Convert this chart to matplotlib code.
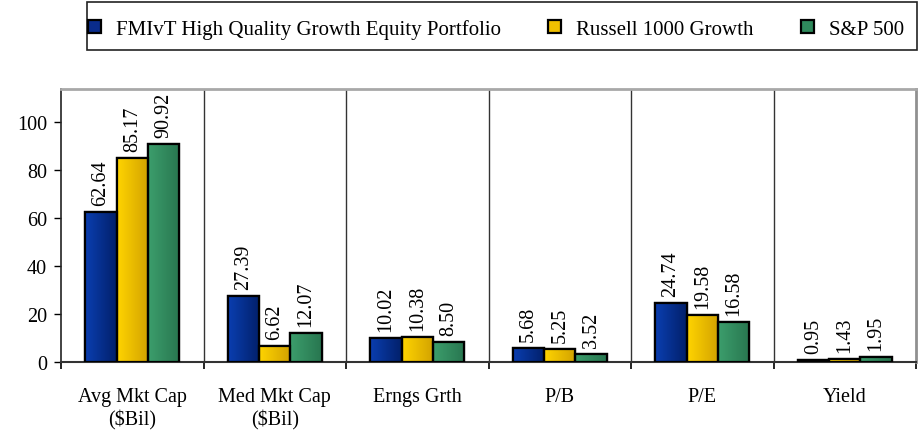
import numpy as np
import matplotlib
matplotlib.use("Agg")
import matplotlib.pyplot as plt
from matplotlib.colors import LinearSegmentedColormap
from matplotlib.patches import Rectangle

categories = ["Avg Mkt Cap\n($Bil)", "Med Mkt Cap\n($Bil)", "Erngs Grth", "P/B", "P/E", "Yield"]
series_names = ["FMIvT High Quality Growth Equity Portfolio", "Russell 1000 Growth", "S&P 500"]
fmivt = [62.64, 27.39, 10.02, 5.68, 24.74, 0.95]
russell = [85.17, 6.62, 10.38, 5.25, 19.58, 1.43]
sp500 = [90.92, 12.07, 8.50, 3.52, 16.58, 1.95]
yticks = [0, 20, 40, 60, 80, 100]

# left/right colours of each bar gradient
grads = [("#0a3eb0", "#02206a"), ("#ffd400", "#d2a200"), ("#3c9e6c", "#287650")]
solid = ["#0a2c8c", "#f0c000", "#2f8a5c"]

plt.rcParams['font.family'] = ['Liberation Serif', 'DejaVu Serif']
W, H = 923, 435

fig = plt.figure(figsize=(W / 100, H / 100), dpi=100)
ax = fig.add_axes([61 / W, 1 - 363 / H, 855 / W, 273 / H])

x = np.arange(len(categories))
width = 0.22
offsets = [-width, 0, width]
all_series = [fmivt, russell, sp500]

for vals, off, (c1, c2), col, name in zip(all_series, offsets, grads, solid, series_names):
    bars = ax.bar(x + off, vals, width, color=col, edgecolor="black", linewidth=1.6,
                  label=name, zorder=3)
    cmap = LinearSegmentedColormap.from_list("g", [c1, c2])
    grad = np.linspace(0, 1, 64).reshape(1, -1)
    for b, v in zip(bars, vals):
        bx, bw, bh = b.get_x(), b.get_width(), b.get_height()
        im = ax.imshow(grad, cmap=cmap, aspect="auto", extent=(bx, bx + bw, 0, bh),
                       zorder=3.5, interpolation="bilinear")
        im.set_clip_path(b)
        # outline redrawn above gradient
        ax.bar(bx + bw / 2, bh, bw, fill=False, edgecolor="black", linewidth=1.6, zorder=4)
        ax.annotate(f"{v:.2f}", (bx + bw / 2, bh), xytext=(0, 5), textcoords="offset points",
                    rotation=90, ha="center", va="bottom", fontsize=14.5, zorder=5)

ax.set_xlim(-0.5, len(categories) - 0.5)
ax.set_ylim(0, 113.75)
ax.set_yticks(yticks)
ax.tick_params(axis="y", labelsize=14.5, length=5, width=1, direction="out", pad=5)

ax.set_xticks(x)
ax.set_xticklabels(categories, fontsize=14.5, linespacing=1.2)
ax.set_xticks(np.arange(len(categories) + 1) - 0.5, minor=True)
ax.tick_params(axis="x", which="major", length=0, pad=18)
ax.tick_params(axis="x", which="minor", length=5, width=1.2, direction="out")

for b in np.arange(1, len(categories)) - 0.5:
    ax.axvline(b, color="#333333", linewidth=1, zorder=2)

ax.spines["top"].set_color("#a8a8a8")
ax.spines["top"].set_linewidth(2)
ax.spines["right"].set_color("#909090")
ax.spines["right"].set_linewidth(2)
ax.spines["left"].set_color("#222222")
ax.spines["left"].set_linewidth(1.2)
ax.spines["bottom"].set_color("#333333")
ax.spines["bottom"].set_linewidth(1.5)

# legend box
fig.patches.append(Rectangle((87 / W, 1 - 51 / H), 830 / W, 48 / H, transform=fig.transFigure,
                             fill=False, edgecolor="#222222", linewidth=1.2))
leg = fig.legend(loc="center left", bbox_to_anchor=(88 / W, 1 - 30 / H), ncol=3, fontsize=15,
                 frameon=False, handlelength=0.62, handleheight=0.62, handletextpad=0.7,
                 columnspacing=2.3, borderpad=0, borderaxespad=0)

fig.savefig("out.png", dpi=100)
